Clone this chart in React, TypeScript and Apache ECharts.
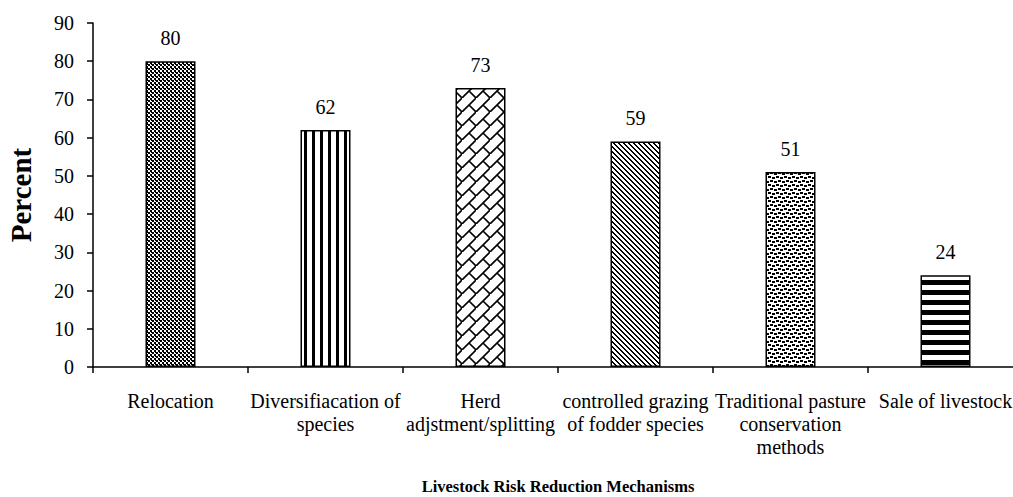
import React, { useEffect, useRef } from "react";
import * as echarts from "echarts";

const categories = [
  "Relocation",
  "Diversifiacation of\nspecies",
  "Herd\nadjstment/splitting",
  "controlled grazing\nof fodder species",
  "Traditional pasture\nconservation\nmethods",
  "Sale of livestock",
];
const values = [80, 62, 73, 59, 51, 24];
const yTicks = [0, 10, 20, 30, 40, 50, 60, 70, 80, 90];
const yTitle = "Percent";
const xTitle = "Livestock Risk Reduction Mechanisms";

const FONT = "'Liberation Serif', 'Times New Roman', serif";

function tile(w: number, h: number, draw: (c: CanvasRenderingContext2D) => void): string {
  const cv = document.createElement("canvas");
  cv.width = w;
  cv.height = h;
  const c = cv.getContext("2d")!;
  c.fillStyle = "#fff";
  c.fillRect(0, 0, w, h);
  c.fillStyle = "#000";
  c.strokeStyle = "#000";
  draw(c);
  return cv.toDataURL();
}

function makePatterns(): string[] {
  const checker = tile(4, 4, (c) => {
    c.fillRect(0, 0, 2, 2);
    c.fillRect(2, 2, 2, 2);
    c.fillRect(1, 1, 1, 1);
    c.fillRect(3, 0, 1, 1);
  });
  const vstripes = tile(8, 1, (c) => {
    c.fillRect(0, 0, 3, 1);
  });
  const brick = tile(14, 14, (c) => {
    c.lineWidth = 1.6;
    c.beginPath();
    c.moveTo(-1, 15);
    c.lineTo(15, -1);
    c.moveTo(7, 7);
    c.lineTo(15, 15);
    c.moveTo(-1, 13);
    c.lineTo(1, 15);
    c.stroke();
  });
  const diag = tile(5, 5, (c) => {
    for (let i = 0; i < 5; i++) {
      c.fillRect(i, i, 2, 1);
    }
    c.fillRect(0, 4, 1, 1);
  });
  const confetti = tile(8, 8, (c) => {
    c.fillRect(0, 0, 3, 2);
    c.fillRect(4, 1, 3, 2);
    c.fillRect(2, 4, 3, 2);
    c.fillRect(6, 5, 2, 2);
    c.fillRect(0, 5, 1, 2);
  });
  const hstripes = tile(1, 10, (c) => {
    c.fillRect(0, 0, 1, 5);
  });
  return [checker, vstripes, brick, diag, confetti, hstripes];
}

export default function App() {
  const ref = useRef<HTMLDivElement>(null);
  useEffect(() => {
    document.body.style.margin = "0";
    document.body.style.overflow = "hidden";
    document.documentElement.style.overflow = "hidden";
    if (!ref.current) return;
    const chart = echarts.init(ref.current, undefined, { renderer: "svg" });
    const patterns = makePatterns();
    chart.setOption({
      animation: false,
      backgroundColor: "#fff",
      grid: {
        left: 93,
        right: -10,
        top: 23,
        bottom: 130,
        containLabel: false,
        outerBoundsMode: "none",
      },
      xAxis: {
        type: "category",
        data: categories,
        name: xTitle,
        nameLocation: "middle",
        nameGap: 111,
        nameTextStyle: { fontFamily: FONT, fontWeight: "bold", fontSize: 16.5, color: "#000" },
        axisLine: { lineStyle: { color: "#000", width: 1.5 } },
        axisTick: { show: true, length: 6, lineStyle: { color: "#000", width: 1.5 } },
        axisLabel: {
          interval: 0,
          fontFamily: FONT,
          fontSize: 20,
          color: "#000",
          lineHeight: 23,
          margin: 22,
        },
      },
      yAxis: {
        type: "value",
        min: 0,
        max: 90,
        interval: 10,
        name: yTitle,
        nameLocation: "middle",
        nameGap: 58,
        nameTextStyle: { fontFamily: FONT, fontWeight: "bold", fontSize: 29, color: "#000" },
        splitLine: { show: false },
        axisLine: { show: true, lineStyle: { color: "#000", width: 1.5 } },
        axisTick: { show: true, length: 6, lineStyle: { color: "#000", width: 1.5 } },
        axisLabel: {
          fontFamily: FONT,
          fontSize: 20,
          color: "#000",
          margin: 19,
          formatter: (v: number) => (yTicks.includes(v) ? String(v) : ""),
        },
      },
      series: [
        {
          type: "bar",
          barWidth: 50,
          data: values.map((v, i) => ({
            value: v,
            itemStyle: {
              color: { image: patterns[i], repeat: "repeat" },
              borderColor: "#000",
              borderWidth: 1.5,
            },
          })),
          label: {
            show: true,
            position: "top",
            distance: 13,
            fontFamily: FONT,
            fontSize: 20,
            color: "#000",
          },
        },
      ],
    });
    return () => chart.dispose();
  }, []);
  return <div ref={ref} style={{ width: 1013, height: 497, overflow: "hidden" }} />;
}
